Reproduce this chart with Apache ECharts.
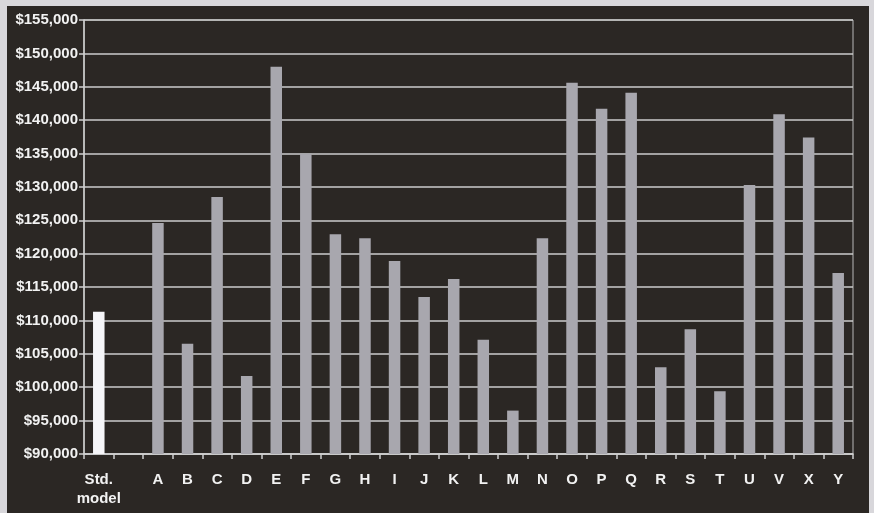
<!DOCTYPE html>
<html>
<head>
<meta charset="utf-8">
<script src="https://cdn.jsdelivr.net/npm/echarts@6/dist/echarts.min.js"></script>
<style>
  html, body { margin: 0; padding: 0; background: #d8d7db; }
  #wrap { position: relative; width: 874px; height: 513px; overflow: hidden; }
  #panel { position: absolute; left: 7px; top: 6px; width: 862px; height: 507px; background: #2b2724; }
  #chart { position: absolute; left: 0; top: 0; width: 874px; height: 513px; }
</style>
</head>
<body>
<div id="wrap">
  <div id="panel"></div>
  <div id="chart"></div>
</div>
<script>
// Categories (an empty slot separates the standard model from the others)
const categories = ['Std.\nmodel', '', 'A', 'B', 'C', 'D', 'E', 'F', 'G', 'H', 'I', 'J', 'K', 'L', 'M', 'N', 'O', 'P', 'Q', 'R', 'S', 'T', 'U', 'V', 'X', 'Y'];
// Values
const values = [111300, null, 124600, 106500, 128500, 101700, 148000, 135000, 122900, 122300, 118900, 113500, 116200, 107100, 96500, 122300, 145600, 141700, 144100, 103000, 108700, 99400, 130300, 140900, 137400, 117100];
// Y axis range
const yMin = 90000, yMax = 155000, yStep = 5000;

const chart = echarts.init(document.getElementById('chart'));
const txt = '#f2f2f2';
chart.setOption({
  backgroundColor: 'transparent',
  animation: false,
  grid: { left: 84, right: 21, top: 20, bottom: 59, show: true, borderColor: '#b8b8b8', borderWidth: 1, backgroundColor: 'transparent' },
  xAxis: {
    type: 'category',
    data: categories,
    boundaryGap: true,
    axisLine: { lineStyle: { color: '#d0d0d0', width: 1.5 } },
    axisTick: { show: true, interval: 0, length: 5, lineStyle: { color: '#d0d0d0', width: 1.5 } },
    axisLabel: { interval: 0, color: txt, fontFamily: 'Liberation Sans, Arial, sans-serif', fontWeight: 'bold', fontSize: 15, margin: 16, lineHeight: 19 }
  },
  yAxis: {
    type: 'value',
    min: yMin, max: yMax, interval: yStep,
    axisLine: { show: true, lineStyle: { color: '#d0d0d0', width: 1.5 } },
    axisTick: { show: true, length: 5, lineStyle: { color: '#d0d0d0', width: 1.5 } },
    splitLine: { lineStyle: { color: '#cdcdcd', width: 1.5 } },
    axisLabel: {
      color: txt, fontFamily: 'Liberation Sans, Arial, sans-serif', fontWeight: 'bold', fontSize: 15, margin: 6,
      formatter: v => '$' + v.toLocaleString('en-US')
    }
  },
  series: [{
    type: 'bar',
    barWidth: 11.5,
    data: values.map((v, i) => i === 0 ? { value: v, itemStyle: { color: '#f6f6f9' } } : v),
    itemStyle: { color: '#a8a7ae' }
  }]
});
</script>
</body>
</html>
